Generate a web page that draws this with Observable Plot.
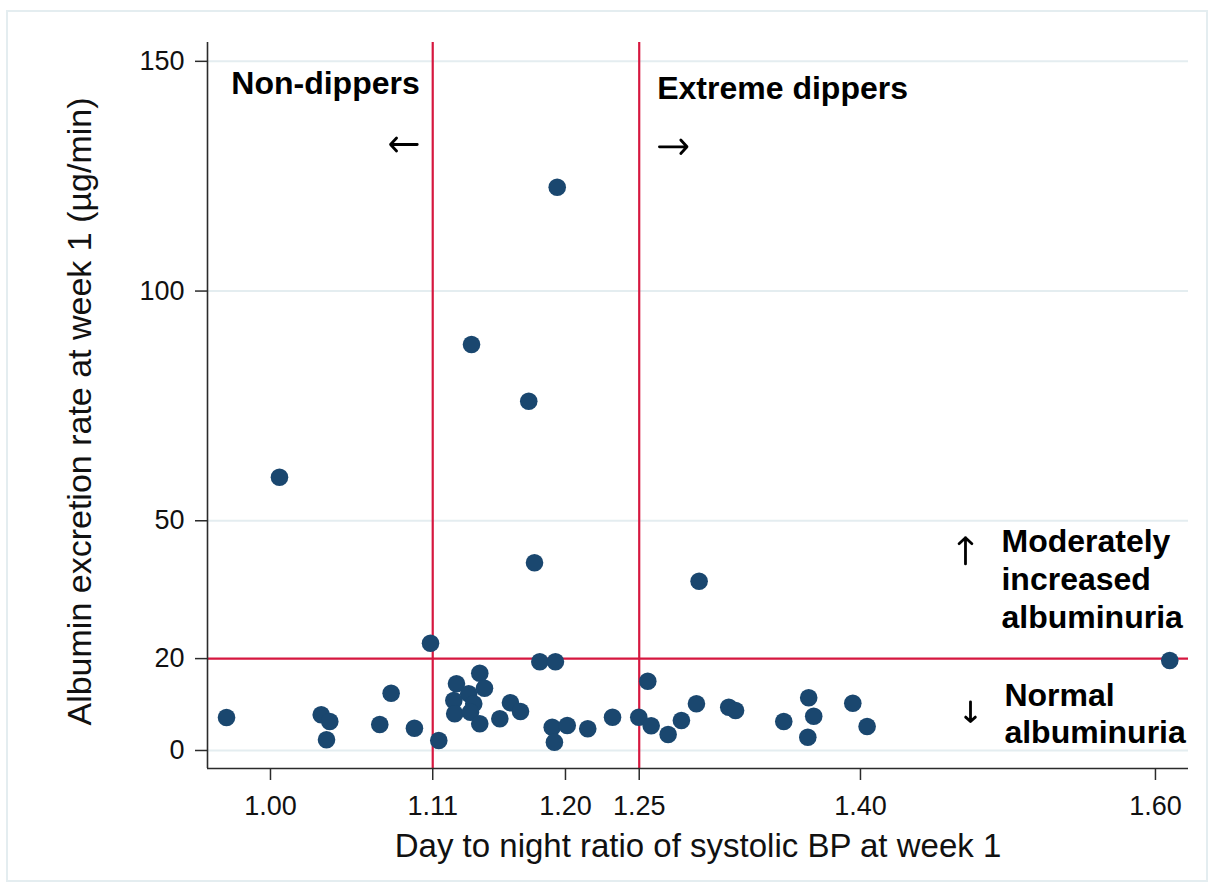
<!DOCTYPE html>
<html>
<head>
<meta charset="utf-8">
<script src="https://cdn.jsdelivr.net/npm/d3@7"></script>
<script src="https://cdn.jsdelivr.net/npm/@observablehq/plot@0.6"></script>
<style>
  html, body { margin: 0; padding: 0; background: #ffffff; }
  #chart svg { display: block; }
</style>
</head>
<body>
<div id="chart"></div>
<script>
// ---- data ----
const xTicks = [1.00, 1.11, 1.20, 1.25, 1.40, 1.60];
const yTicks = [0, 20, 50, 100, 150];
const gridValues = [0, 50, 100, 150];
const dipperCutoffs = [1.11, 1.25];
const albuminCutoff = [20];
const xDomain = [0.9573, 1.6224];
const yDomain = [-3.92, 154.1];

const dayNightRatio = [
  0.9702, 1.0061, 1.0344, 1.0402, 1.0380, 1.0818, 1.0741, 1.0976, 1.1085, 1.1141,
  1.1261, 1.1419, 1.1451, 1.1344, 1.1243, 1.1378, 1.1249, 1.1356, 1.1419, 1.1555,
  1.1627, 1.1695, 1.1826, 1.1932, 1.1910, 1.2012, 1.1925, 1.2151, 1.2319, 1.2497,
  1.2558, 1.2581, 1.2696, 1.2786, 1.2888, 1.3107, 1.3153, 1.3480, 1.3649, 1.3683,
  1.3643, 1.3948, 1.4045, 1.6097, 1.1944, 1.1363, 1.1751, 1.1790, 1.2906
];
const albuminRate = [
  7.18, 59.48, 7.77, 6.31, 2.33, 12.47, 5.66, 4.85, 23.35, 2.18,
  14.52, 16.82, 13.56, 12.34, 10.88, 10.16, 7.99, 8.34, 5.81, 6.90,
  10.38, 8.49, 19.30, 19.30, 5.07, 5.44, 1.81, 4.72, 7.25, 7.25,
  15.08, 5.38, 3.48, 6.53, 10.16, 9.42, 8.71, 6.31, 11.47, 7.46,
  2.89, 10.29, 5.22, 19.59, 122.6, 88.36, 76.02, 40.85, 36.84
];

const xTitle = "Day to night ratio of systolic BP at week 1";
const yTitle = "Albumin excretion rate at week 1 (\u00b5g/min)";

// annotations anchored in data space
const nonDippers = [{label: "Non-dippers", x: 1.11, y: 145.1}];
const extremeDippers = [{label: "Extreme dippers", x: 1.25, y: 144.0}];
const increasedLabel = [{label: "Moderately\nincreased\nalbuminuria", x: 1.4956, y: 49.0}];
const normalLabel = [{label: "Normal\nalbuminuria", x: 1.4976, y: 15.3}];
// direction arrows (tail -> head), data space
const directionArrows = [
  {x1: 1.0995, y1: 131.9, x2: 1.0814, y2: 131.9},
  {x1: 1.2637, y1: 131.4, x2: 1.2824, y2: 131.4},
  {x1: 1.4712, y1: 40.6, x2: 1.4712, y2: 46.3},
  {x1: 1.4746, y1: 10.6, x2: 1.4746, y2: 6.3}
];

const points = dayNightRatio.map((x, i) => ({x, y: albuminRate[i]}));

const RED = "#d6173f";
const NAVY = "#1a476f";
const AXIS = "#2b2b2b";

const chart = Plot.plot({
  width: 1214,
  height: 885,
  marginLeft: 207,
  marginRight: 26,
  marginTop: 42,
  marginBottom: 117,
  style: {fontFamily: "Arial, 'Liberation Sans', sans-serif", background: "#ffffff", color: "#111"},
  x: {domain: xDomain},
  y: {domain: yDomain},
  marks: [
    Plot.gridY(gridValues, {stroke: "#e4edf0", strokeOpacity: 1, strokeWidth: 2}),
    Plot.ruleX(dipperCutoffs, {stroke: RED, strokeWidth: 2.2}),
    Plot.ruleY(albuminCutoff, {stroke: RED, strokeWidth: 2.2}),
    Plot.ruleX([xDomain[0]], {stroke: AXIS, strokeWidth: 1.6}),
    Plot.ruleY([yDomain[0]], {stroke: AXIS, strokeWidth: 1.6}),
    Plot.axisX(xTicks, {tickSize: 12, tickPadding: 15, tickFormat: d3.format(".2f"), fontSize: 27, stroke: AXIS, strokeWidth: 1.5, label: null}),
    Plot.axisY(yTicks, {tickSize: 12, tickPadding: 11, fontSize: 27, stroke: AXIS, strokeWidth: 1.5, label: null}),
    Plot.dot(points, {x: "x", y: "y", r: 8.8, fill: NAVY}),
    Plot.text([xTitle], {frameAnchor: "bottom", dy: 88, fontSize: 33, fill: "#111"}),
    Plot.text([yTitle], {frameAnchor: "left", textAnchor: "middle", rotate: -90, dx: -127, dy: 6, fontSize: 34, fill: "#111"}),
    Plot.text(nonDippers, {x: "x", y: "y", text: "label", textAnchor: "end", dx: -13, fontSize: 32, fontWeight: "bold", fill: "#000"}),
    Plot.text(extremeDippers, {x: "x", y: "y", text: "label", textAnchor: "start", dx: 18, fontSize: 32, fontWeight: "bold", fill: "#000"}),
    Plot.arrow(directionArrows, {x1: "x1", y1: "y1", x2: "x2", y2: "y2", stroke: "#000", strokeWidth: 2.8, headAngle: 95, headLength: 14}),
    Plot.text(increasedLabel, {x: "x", y: "y", text: "label", textAnchor: "start", lineAnchor: "top", lineHeight: 1.18, fontSize: 32, fontWeight: "bold", fill: "#000"}),
    Plot.text(normalLabel, {x: "x", y: "y", text: "label", textAnchor: "start", lineAnchor: "top", lineHeight: 1.15, fontSize: 32, fontWeight: "bold", fill: "#000"})
  ]
});

d3.select(chart).insert("rect", ":first-child")
  .attr("x", 7).attr("y", 11).attr("width", 1200).attr("height", 870)
  .attr("fill", "none").attr("stroke", "#e4edf0").attr("stroke-width", 2);

document.getElementById("chart").appendChild(chart);
</script>
</body>
</html>
